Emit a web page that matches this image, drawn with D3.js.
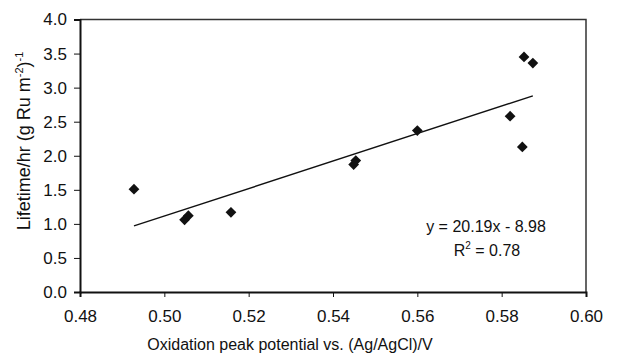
<!DOCTYPE html>
<html>
<head>
<meta charset="utf-8">
<script src="https://cdn.jsdelivr.net/npm/d3@7"></script>
<style>
  body { margin: 0; background: #fff; }
  text { font-family: "Liberation Sans", Arial, sans-serif; fill: #111; }
</style>
</head>
<body>
<div id="chart"></div>
<script>
// values
var potential = [0.4928, 0.5048, 0.5057, 0.5158, 0.5449, 0.5454, 0.5600, 0.5820, 0.5849, 0.5853, 0.5874];
var lifetime  = [1.51, 1.06, 1.12, 1.17, 1.87, 1.93, 2.37, 2.58, 2.13, 3.45, 3.36];
var xTicks = [0.48, 0.50, 0.52, 0.54, 0.56, 0.58, 0.60];
var yTicks = [0, 0.5, 1, 1.5, 2, 2.5, 3, 3.5, 4];
var slope = 20.19, intercept = -8.98;

var margin = { top: 19.5, bottom: 65, left: 80, right: 36 },
  width = 622 - margin.left - margin.right,
  height = 357 - margin.top - margin.bottom;

var svg = d3.select("#chart")
  .append("svg")
  .attr("width", 622)
  .attr("height", 357)
  .append("g")
  .attr("transform", "translate(" + margin.left + "," + margin.top + ")");

var x = d3.scaleLinear().domain([0.48, 0.60]).range([0, width]);
var y = d3.scaleLinear().domain([0, 4]).range([height, 0]);

// frame top/right
svg.append("path")
  .attr("d", "M0,0H" + width + "V" + height)
  .attr("fill", "none")
  .attr("stroke", "#333")
  .attr("stroke-width", 1.5);

var xAxis = svg.append("g")
  .attr("transform", "translate(0," + height + ")")
  .call(d3.axisBottom(x).tickValues(xTicks).tickFormat(d3.format(".2f")).tickSize(5).tickPadding(13));
var yAxis = svg.append("g")
  .call(d3.axisLeft(y).tickValues(yTicks).tickFormat(d3.format(".1f")).tickSize(6).tickPadding(7));

[xAxis, yAxis].forEach(function(a) {
  a.select(".domain").attr("stroke", "#111").attr("stroke-width", 2);
  a.selectAll(".tick line").attr("stroke", "#111").attr("stroke-width", 1);
  a.selectAll(".tick text").style("font-size", "17px").attr("fill", "#111");
});

// trend line
var xs = d3.extent(potential);
svg.append("line")
  .attr("x1", x(xs[0])).attr("y1", y(slope * xs[0] + intercept))
  .attr("x2", x(xs[1])).attr("y2", y(slope * xs[1] + intercept))
  .attr("stroke", "#111")
  .attr("stroke-width", 1.4);

var diamond = d3.symbol().type(d3.symbolSquare).size(58);
svg.selectAll(".pt")
  .data(potential)
  .enter().append("path")
  .attr("class", "pt")
  .attr("d", diamond)
  .attr("transform", function(d, i) { return "translate(" + x(d) + "," + y(lifetime[i]) + ") rotate(45)"; })
  .attr("fill", "#111");

// equation
svg.append("text")
  .attr("x", 486 - margin.left).attr("y", 232 - margin.top)
  .attr("text-anchor", "middle")
  .style("font-size", "16px")
  .text("y = 20.19x - 8.98");
var r2 = svg.append("text")
  .attr("x", 487 - margin.left).attr("y", 256 - margin.top)
  .attr("text-anchor", "middle")
  .style("font-size", "16px");
r2.append("tspan").text("R");
r2.append("tspan").attr("dy", -7).style("font-size", "10px").text("2");
r2.append("tspan").attr("dy", 7).text(" = 0.78");

// axis titles
svg.append("text")
  .attr("x", 290 - margin.left).attr("y", 350 - margin.top)
  .attr("text-anchor", "middle")
  .style("font-size", "16px")
  .text("Oxidation peak potential vs. (Ag/AgCl)/V");

var yl = svg.append("text")
  .attr("transform", "translate(" + (30 - margin.left) + "," + (141 - margin.top) + ") rotate(-90)")
  .attr("text-anchor", "middle")
  .style("font-size", "18px");
yl.append("tspan").text("Lifetime/hr (g Ru m");
yl.append("tspan").attr("dy", -7).style("font-size", "11px").text("-2");
yl.append("tspan").attr("dy", 7).text(")");
yl.append("tspan").attr("dy", -7).style("font-size", "11px").text("-1");
</script>
</body>
</html>
